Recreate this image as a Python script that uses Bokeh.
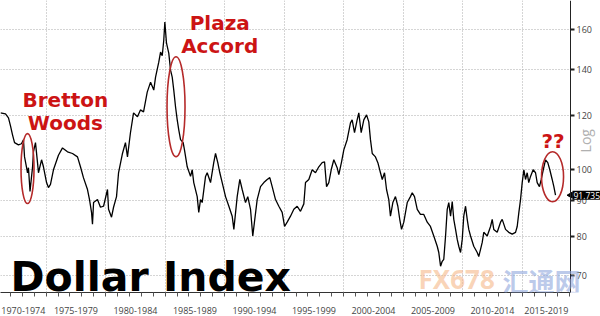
import math
from bokeh.plotting import figure
from bokeh.models import (Range1d, LinearAxis, FixedTicker, Grid, Label, BoxAnnotation,
                          PrintfTickFormatter)
from bokeh.embed import file_html
from bokeh.resources import INLINE

# ---------------- data ----------------
years = [
    1971.16, 1971.58, 1971.83, 1972.00, 1972.17, 1972.34, 1972.67, 1972.92, 1973.09, 1973.18,
    1973.34, 1973.43, 1973.51, 1973.64, 1973.76, 1973.85, 1973.93, 1974.10, 1974.27, 1974.35,
    1974.61, 1974.77, 1975.03, 1975.19, 1975.36, 1975.61, 1976.03, 1976.37, 1976.79, 1977.21,
    1977.63, 1977.88, 1978.13, 1978.47, 1978.64, 1978.81, 1978.89, 1978.98, 1979.31, 1979.56,
    1979.82, 1980.15, 1980.24, 1980.49, 1980.66, 1980.91, 1981.08, 1981.41, 1981.66, 1981.83,
    1982.08, 1982.34, 1982.67, 1982.92,
    1983.18, 1983.49, 1983.77, 1984.04, 1984.19, 1984.46, 1984.61, 1984.75, 1984.88, 1984.97,
    1985.11, 1985.30, 1985.45, 1985.59, 1985.72, 1985.87, 1986.01, 1986.14, 1986.29, 1986.51,
    1986.62, 1986.85, 1987.13, 1987.27, 1987.40, 1987.69, 1987.82, 1987.97, 1988.11, 1988.39,
    1988.53, 1988.81, 1989.08, 1989.23, 1989.42, 1989.59, 1989.79, 1990.07, 1990.35, 1990.63,
    1990.77, 1991.05, 1991.27, 1991.47, 1991.75, 1991.94, 1992.17, 1992.36, 1992.50, 1992.73,
    1993.01, 1993.29, 1993.57, 1993.79, 1993.99, 1994.27, 1994.55, 1994.83, 1995.03, 1995.25,
    1995.53, 1995.81, 1996.09, 1996.37, 1996.65, 1996.79, 1997.07, 1997.35, 1997.63, 1997.91,
    1998.19, 1998.39, 1998.56, 1998.75, 1998.95, 1999.17, 1999.45, 1999.59, 1999.82, 2000.01,
    2000.29, 2000.57, 2000.71, 2000.91, 2001.13, 2001.27, 2001.47, 2001.69, 2001.92, 2002.11,
    2002.25, 2002.40, 2002.67, 2002.87, 2003.09, 2003.24, 2003.43, 2003.60, 2003.79, 2003.93,
    2004.13, 2004.35, 2004.55, 2004.71, 2004.86, 2005.05, 2005.34, 2005.61, 2005.76, 2005.95,
    2006.18, 2006.45, 2006.73, 2007.02, 2007.29, 2007.57, 2007.86, 2007.99, 2008.14, 2008.28,
    2008.41, 2008.56, 2008.70, 2008.83, 2008.98, 2009.12, 2009.25, 2009.40, 2009.54, 2009.67,
    2009.82, 2009.96, 2010.09, 2010.24, 2010.38, 2010.51, 2010.66, 2010.93, 2011.22, 2011.35,
    2011.50, 2011.64, 2011.77, 2012.06, 2012.34, 2012.48, 2012.61, 2012.90, 2013.18, 2013.32,
    2013.60, 2013.87, 2014.16, 2014.44, 2014.58, 2014.72, 2014.86, 2015.00, 2015.14, 2015.28,
    2015.42, 2015.55, 2015.70, 2015.92, 2016.12, 2016.26, 2016.45, 2016.60, 2016.77, 2016.96,
    2017.15, 2017.32, 2017.52, 2017.66, 2017.80,
]
values = [
    120.9, 120.5, 118.9, 115.7, 112.3, 109.4, 108.6, 109.0, 110.5, 104.3,
    100.9, 98.9, 100.6, 92.9, 97.3, 100.6, 106.1, 109.4, 102.3, 98.9,
    103.3, 100.9, 95.7, 94.1, 95.1, 99.9, 104.9, 107.5, 106.1, 105.5,
    104.3, 100.9, 97.3, 93.5, 90.4, 86.6, 83.2, 89.5, 90.4, 88.1,
    88.4, 93.5, 87.5, 85.2, 88.1, 91.3, 98.9, 105.5, 109.4, 104.3,
    113.1, 120.9, 119.3, 122.1,
    121.3, 129.6, 134.0, 130.5, 136.3, 143.3, 148.2, 146.4, 154.2, 163.9,
    152.7, 147.7, 139.5, 136.3, 130.5, 123.3, 118.1, 114.2, 110.5, 109.4,
    106.8, 100.9, 97.7, 99.9, 95.7, 91.3, 86.6, 90.4, 89.5, 97.7,
    98.9, 95.7, 102.3, 105.5, 102.3, 98.9, 95.7, 91.3, 88.4, 85.5,
    81.8, 91.3, 96.7, 93.5, 89.5, 91.3, 87.5, 80.0, 83.8, 90.4,
    94.4, 95.7, 96.7, 97.3, 94.4, 90.4, 88.4, 86.6, 82.6, 83.8,
    85.5, 87.5, 88.4, 86.9, 89.1, 95.7, 96.7, 99.9, 98.9, 100.9,
    102.3, 102.6, 94.4, 95.7, 99.9, 103.3, 100.6, 98.3, 102.6, 106.8,
    110.5, 116.9, 118.1, 113.1, 118.1, 120.9, 113.1, 118.1, 120.1, 117.3,
    110.5, 105.5, 104.3, 102.3, 98.9, 96.7, 98.9, 93.5, 90.4, 85.5,
    89.5, 91.3, 88.4, 84.6, 81.8, 83.8, 89.5, 91.3, 92.5, 91.3,
    87.5, 86.0, 86.0, 83.8, 82.6, 80.0, 77.3, 75.7, 72.3, 73.5,
    74.0, 80.0, 87.5, 89.5, 85.5, 89.8, 84.6, 81.8, 79.1, 77.3,
    75.7, 79.1, 85.5, 88.4, 84.6, 81.8, 80.0, 77.3, 75.7, 74.7,
    76.5, 78.3, 81.0, 80.0, 82.6, 84.6, 81.8, 81.0, 83.8, 84.6,
    81.8, 81.0, 80.5, 81.0, 82.6, 86.6, 90.4, 95.7, 99.9, 96.7,
    98.9, 95.7, 97.7, 99.9, 98.9, 95.7, 94.4, 96.7, 99.9, 103.3,
    102.3, 99.9, 96.7, 94.4, 91.735,
]
last_value = 91.735

y_ticks = [70, 80, 90, 100, 120, 140, 160]
period_starts = [1970, 1975, 1980, 1985, 1990, 1995, 2000, 2005, 2010, 2015]
period_labels = ["1970-1974", "1975-1979", "1980-1984", "1985-1989", "1990-1994",
                 "1995-1999", "2000-2004", "2005-2009", "2010-2014", "2015-2019"]

# annotations (event names, rings around the moves)
note_texts = ["Bretton", "Woods", "Plaza", "Accord", "??"]
note_years = [1976.61, 1976.61, 1989.58, 1989.58, 2017.59]
note_levels = [126.2, 116.9, 163.2, 151.2, 110.1]

ring_years = [1973.43, 1985.91, 2017.55]
ring_levels = [100.3, 123.4, 97.6]
ring_w = [13, 18, 22]
ring_h = [70, 100, 50]

# ---------------- figure ----------------
x0, x1 = 1971.16, 2019.06      # span of the time axis (axis line sits at x1)
x_full = 2021.58               # frame continues under the right-hand labels
y0, y1 = 66.2, 176.2

p = figure(width=600, height=316, x_axis_type=None, y_axis_type="log",
           y_axis_location="right", x_range=Range1d(x0, x_full), y_range=Range1d(y0, y1),
           output_backend="svg", toolbar_location=None,
           min_border_left=0, min_border_top=0, min_border_right=0, min_border_bottom=23)
p.outline_line_color = None
p.background_fill_color = "white"
p.border_fill_color = "white"

RED = "#cc1414"
TICK_FONT = "Open Sans"

# right log axis, pinned at the end of the time span
ya = p.yaxis[0]
ya.fixed_location = x1
ya.ticker = FixedTicker(ticks=y_ticks, minor_ticks=[])
ya.formatter = PrintfTickFormatter(format="%d")
ya.axis_line_color = "#222222"
ya.major_tick_out = 4
ya.major_tick_in = 0
ya.major_tick_line_width = 2
ya.major_tick_line_color = "#222222"
ya.minor_tick_out = 0
ya.major_label_standoff = 2
ya.major_label_text_font = TICK_FONT
ya.major_label_text_font_size = "9px"
ya.major_label_text_color = "#444444"

p.ygrid.ticker = FixedTicker(ticks=y_ticks)
p.ygrid.grid_line_color = "#aaaaaa"
p.ygrid.grid_line_dash = "1 2"

seps = [s for s in period_starts if x0 < s < x1]
p.add_layout(Grid(dimension=0, ticker=FixedTicker(ticks=seps),
                  grid_line_color="#aaaaaa", grid_line_dash="1 2"))

# blank strip right of the value axis (hides grid lines there)
p.add_layout(BoxAnnotation(left=x1, right=x_full, fill_color="white", fill_alpha=1.0,
                           line_color=None, level="underlay"))

# bottom axis: labels centred on the visible part of each period, yearly minor ticks
mids = [(max(s, x0) + min(s + 5, x1)) / 2 for s in period_starts]
lab_axis = LinearAxis(
    ticker=FixedTicker(ticks=mids, minor_ticks=[y for y in range(1972, 2020)]),
    major_label_overrides={m: t for m, t in zip(mids, period_labels)},
    bounds=(x0, x1),
    major_tick_out=0, major_tick_in=0, minor_tick_out=4, minor_tick_in=0,
    minor_tick_line_color="#555555", axis_line_color="#333333",
    major_label_standoff=10, major_label_text_font=TICK_FONT,
    major_label_text_font_size="9px", major_label_text_color="#444444")
p.add_layout(lab_axis, "below")

sep_axis = LinearAxis(
    ticker=FixedTicker(ticks=seps, minor_ticks=[]), fixed_location=y0,
    bounds=(x0, x1),
    major_tick_out=23, major_tick_in=0, major_tick_line_color="#999999",
    axis_line_color=None, minor_tick_line_color=None,
    major_label_text_color=None, major_label_text_font_size="1px")
p.add_layout(sep_axis, "below")

# the series
p.line(years, values, line_color="black", line_width=1.3)

# rings
p.ellipse(x=ring_years, y=ring_levels, width=ring_w, height=ring_h,
          width_units="screen", height_units="screen",
          fill_color=None, line_color="#b52a2a", line_width=1.6)

for t, xx, yy in zip(note_texts, note_years, note_levels):
    p.add_layout(Label(x=xx, y=yy, text=t, text_align="center", text_baseline="alphabetic",
                       text_font="DejaVu Sans", text_font_style="bold",
                       text_font_size="20px", text_color=RED))

# title
p.add_layout(Label(x=1972.0, y=69.7, text="Dollar Index", text_align="left",
                   text_baseline="alphabetic", text_font="DejaVu Sans",
                   text_font_style="bold", text_font_size="41px", text_color="black"))

# watermark
p.add_layout(Label(x=2006.29, y=69.2, text="FX678", text_align="left",
                   text_baseline="alphabetic", text_font="Noto Sans", text_font_style="bold",
                   text_font_size="26px", text_color="#f5b888", text_alpha=0.6))
p.add_layout(Label(x=2013.35, y=69.0, text="汇通网", text_align="left",
                   text_baseline="alphabetic", text_font="Noto Sans CJK SC",
                   text_font_style="bold", text_font_size="26px",
                   text_color="#8fa6dc", text_alpha=0.6))

# last value tag (pointer + box) and axis caption
p.scatter(x=[x1], y=[last_value], marker="triangle", angle=math.pi / 2, size=6,
          fill_color="black", line_color="black")
p.add_layout(Label(x=x1, y=last_value, x_offset=2, text=f"{last_value:.3f}",
                   text_align="left", text_baseline="middle", text_font=TICK_FONT,
                   text_font_size="8.5px", text_color="white",
                   background_fill_color="black", padding=1))
p.add_layout(Label(x=x1, x_offset=15, y=110.1, text="Log", angle=math.pi / 2,
                   text_align="center", text_baseline="middle", text_font=TICK_FONT,
                   text_font_size="14px", text_color="#b0b0b0"))

open("out.html", "w").write(file_html(p, INLINE))
